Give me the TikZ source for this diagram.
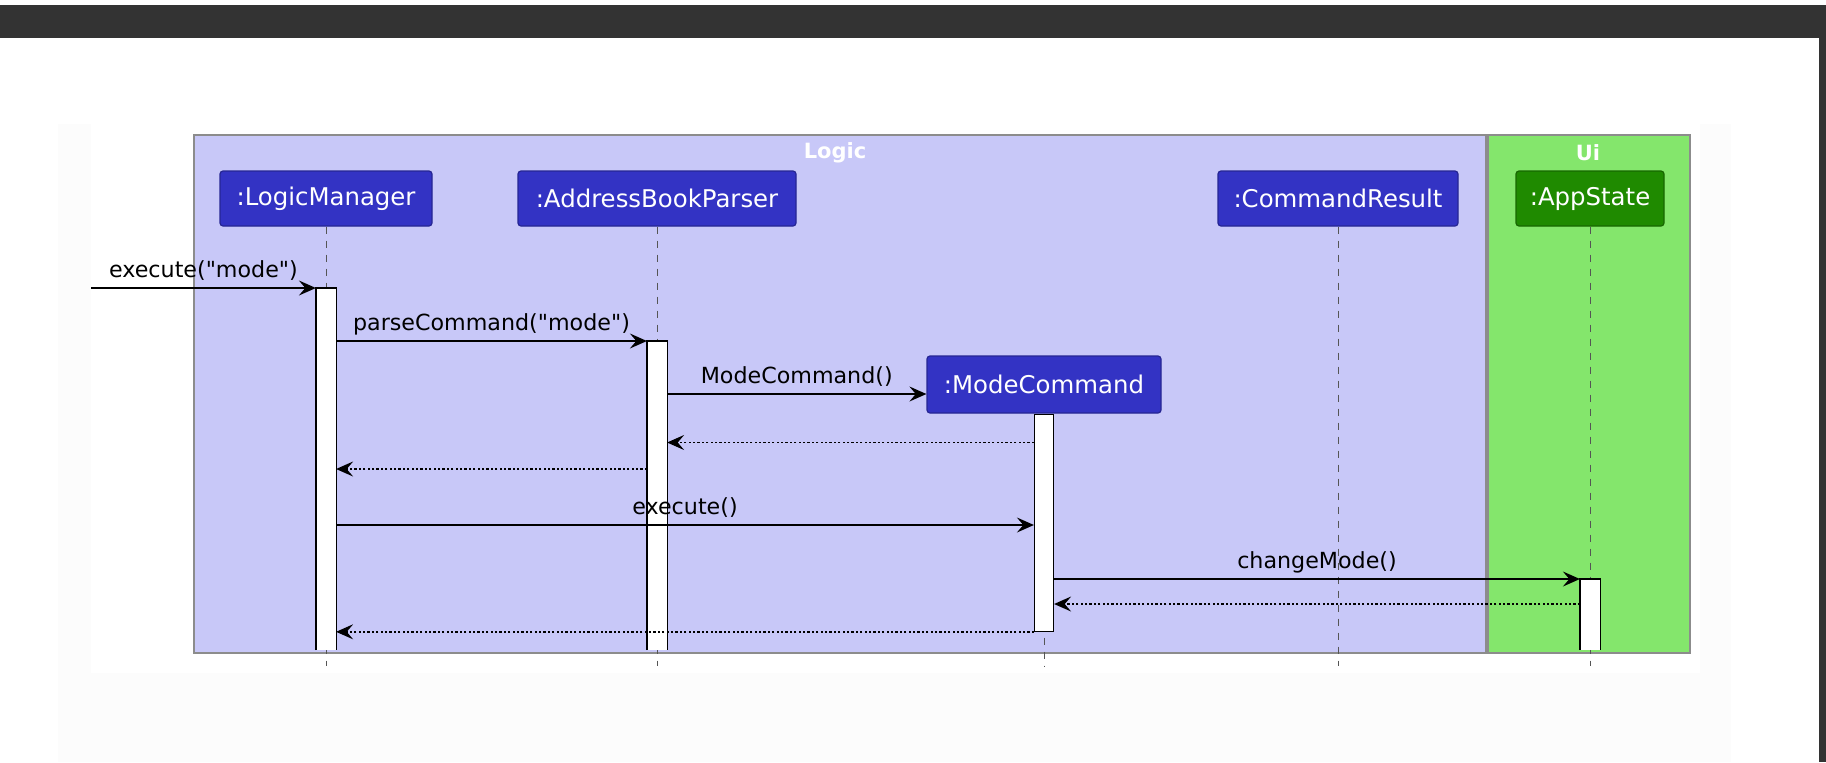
\documentclass[tikz,border=0pt]{standalone}
\usepackage{fontspec}
\setmainfont{DejaVu Sans}
\usetikzlibrary{arrows.meta}

\definecolor{logicfill}{HTML}{C8C8F8}
\definecolor{uifill}{HTML}{84E66C}
\definecolor{partblue}{HTML}{3333C4}
\definecolor{partgreen}{HTML}{1F8A00}
\definecolor{frameline}{HTML}{8C8C8C}
\definecolor{topbar}{HTML}{333333}
\definecolor{panel}{HTML}{FCFCFC}

\tikzset{every picture/.style={line width=0.6pt},
  party/.style={draw=partblue!75!black, fill=partblue, rounded corners=1.5pt, text=white,
    font=\fontsize{12.2}{14}\selectfont, minimum height=27.5pt, inner sep=0pt},
  grouptitle/.style={text=white, font=\bfseries\fontsize{10.5}{12}\selectfont, inner sep=0pt},
  lifeline/.style={draw={rgb, 255:red, 85; green, 85; blue, 85}, line width=0.5pt, dash pattern={on 3.5pt off 3.5pt}},
  actbar/.style={fill=white, minimum width=9.5pt, inner sep=0pt},
  msg/.style={-{Stealth[length=8.5pt,width=7.5pt,inset=3.2pt]}},
  reply/.style={msg, line width=0.7pt, dash pattern={on 1.1pt off 1.1pt}},
  msglabel/.style={midway, anchor=base, yshift=5.5pt, inner sep=0pt, font=\fontsize{11.1}{13}\selectfont}
}

\begin{document}
\begin{tikzpicture}[x=0.5pt,y=0.5pt,yscale=-1,xscale=1]
\useasboundingbox (0,0) rectangle (1826,762);

%Shape: Rectangle (window)
\fill [white] (0,0) rectangle (1826,762);
\fill [topbar] (0,5) rectangle (1826,38);
\fill [topbar] (1819,38) rectangle (1826,762);
\fill [panel] (58,124) rectangle (1731,762);
\fill [white] (91,124) rectangle (1700,673);

%Shape: Rectangle (groups)
\draw [frameline, line width=0.75pt, fill=logicfill] (194,135) rectangle (1486,653);
\draw [frameline, line width=0.75pt, fill=uifill] (1488,135) rectangle (1690,653);

% Text Node
\node (logictitle) at (835,153) [grouptitle] {Logic};
% Text Node
\node (uititle) at (1588,153) [grouptitle] {Ui};

% Participants
\node (lm) at (326,198.5) [party, minimum width=106pt] {:LogicManager};
\node (abp) at (657,198.5) [party, minimum width=139pt] {:AddressBookParser};
\node (cr) at (1338,198.5) [party, minimum width=120pt] {:CommandResult};
\node (as) at (1590,198.5) [party, fill=partgreen, draw=partgreen!75!black, minimum width=74pt] {:AppState};
\node (mc) at (1044,384.5) [party, minimum width=117pt, minimum height=28.5pt] {:ModeCommand};

% Message heights
\coordinate (m1) at (91,288);
\coordinate (m2) at (0,341);
\coordinate (m3) at (0,394);
\coordinate (m4) at (0,442.5);
\coordinate (m5) at (0,469);
\coordinate (m6) at (0,525);
\coordinate (m7) at (0,579);
\coordinate (m8) at (0,604);
\coordinate (foot) at (0,666);

%Straight Lines (lifelines)
\draw [lifeline] (lm.south) -- (lm.south |- foot);
\draw [lifeline] (abp.south) -- (abp.south |- foot);
\draw [lifeline] (cr.south) -- (cr.south |- foot);
\draw [lifeline] (as.south) -- (as.south |- foot);
\draw [lifeline] (mc.south) -- (mc.south |- foot);

%Shape: Rectangle (activations)
\node (lmbar) at (lm.south |- m1) [actbar, anchor=north, minimum height=180.5pt] {};
\node (abpbar) at (abp.south |- m2) [actbar, anchor=north, minimum height=154pt] {};
\node (mcbar) at (mc.south) [actbar, draw, anchor=north, minimum height=108.5pt] {};
\node (asbar) at (as.south |- m7) [actbar, anchor=north, minimum height=35pt] {};
\draw (lmbar.south west) -- (lmbar.north west) -- (lmbar.north east) -- (lmbar.south east);
\draw (abpbar.south west) -- (abpbar.north west) -- (abpbar.north east) -- (abpbar.south east);
\draw (asbar.south west) -- (asbar.north west) -- (asbar.north east) -- (asbar.south east);

%Straight Lines (messages)
\draw [msg] (m1) -- (lmbar.north west) node [msglabel] {execute(\textquotedbl mode\textquotedbl)};
\draw [msg] (lmbar.east |- m2) -- (abpbar.north west) node [msglabel] {parseCommand(\textquotedbl mode\textquotedbl)};
\draw [msg] (abpbar.east |- m3) -- (mc.west |- m3) node [msglabel] {ModeCommand()};
\draw [reply] (mcbar.west |- m4) -- (abpbar.east |- m4);
\draw [reply] (abpbar.west |- m5) -- (lmbar.east |- m5);
\draw [msg] (lmbar.east |- m6) -- (mcbar.west |- m6) node [msglabel] {execute()};
\draw [msg] (mcbar.east |- m7) -- (asbar.north west) node [msglabel] {changeMode()};
\draw [reply] (asbar.west |- m8) -- (mcbar.east |- m8);
\draw [reply] (mcbar.south west) -- (lmbar.east |- mcbar.south);

\end{tikzpicture}
\end{document}
